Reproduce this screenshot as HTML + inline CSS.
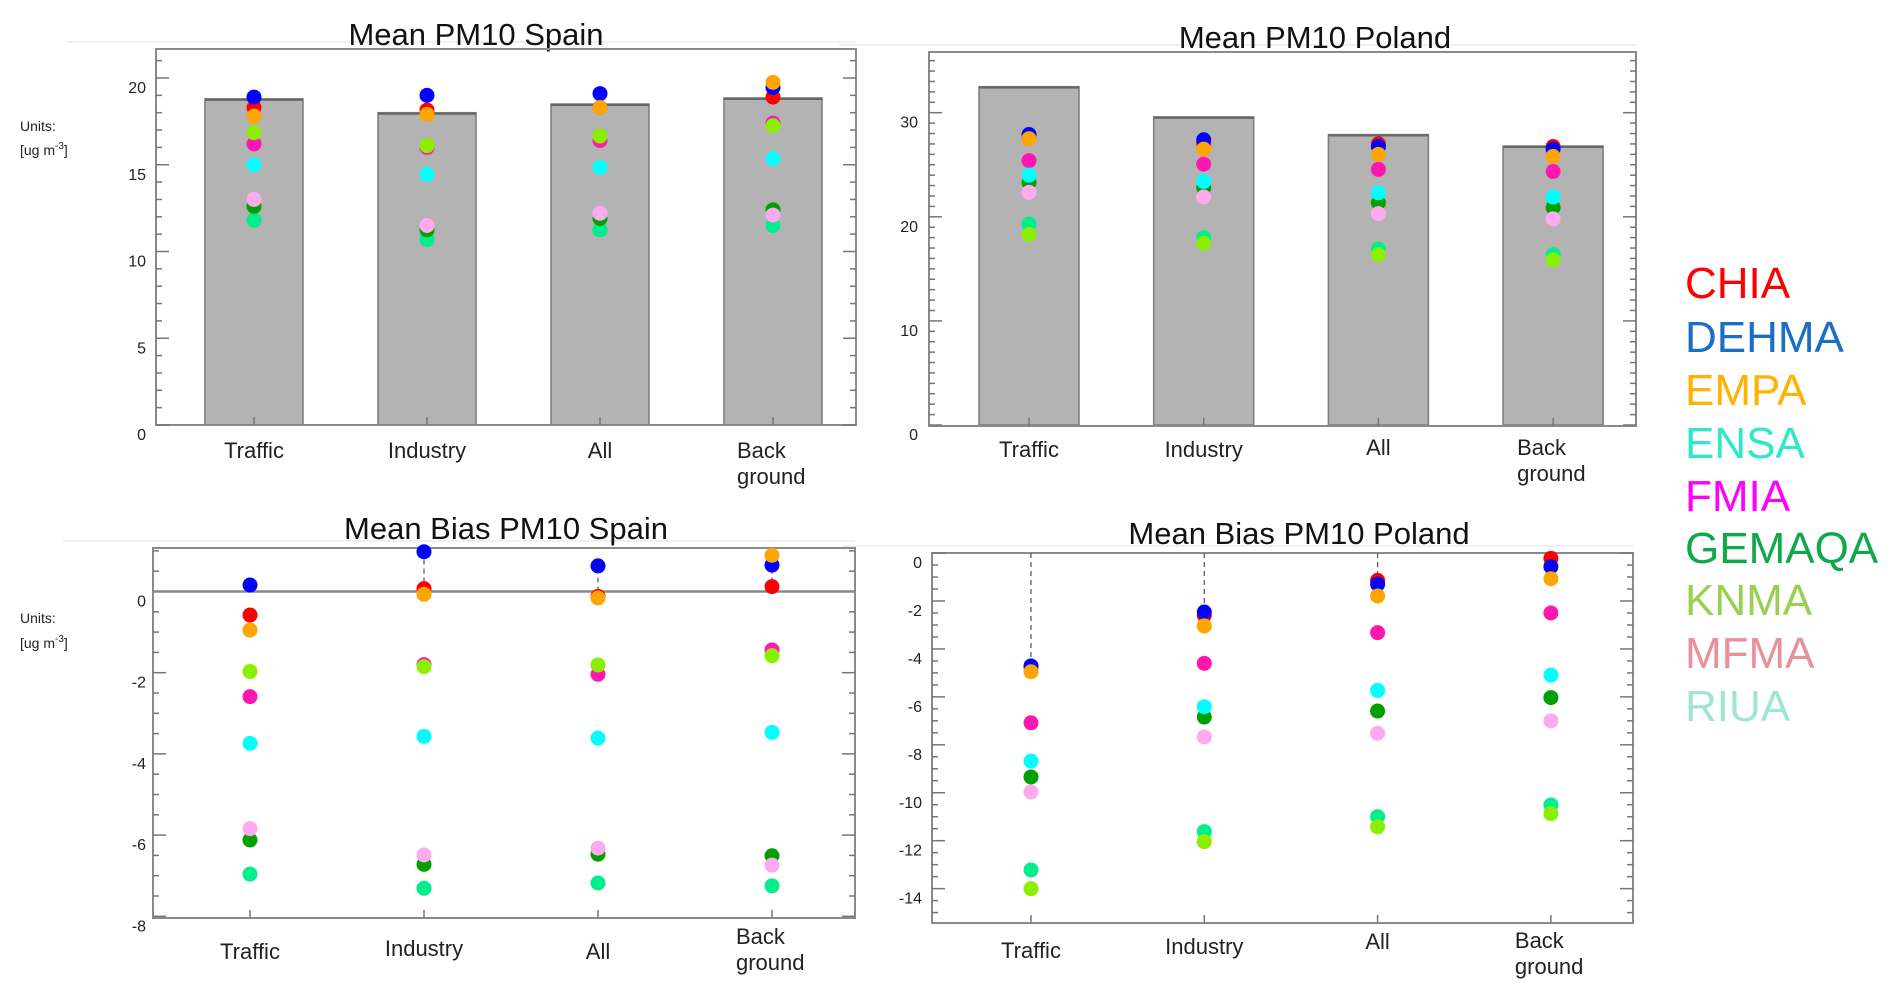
<!DOCTYPE html>
<html><head><meta charset="utf-8"><style>
html,body{margin:0;padding:0;background:#fff;}
svg{display:block;font-family:"Liberation Sans",Arial,sans-serif;}
</style></head><body>
<svg id="chart" width="1892" height="1002" viewBox="0 0 1892 1002" xmlns="http://www.w3.org/2000/svg"></svg>
<script>
const categories = ["Traffic","Industry","All","Back ground"];
const models = ["CHIA","DEHMA","EMPA","ENSA","FMIA","GEMAQA","KNMA","MFMA","RIUA"];
const dotColors = ["#ff0000","#0000ff","#ffa500","#00ee8c","#ff18b0","#00a000","#8cee00","#ffaaee","#00ffff"];
const legendColors = ["#ff0000","#1a6fc4","#ffb300","#2ee8c8","#ff00ff","#10a84a","#98d050","#e8909c","#a0e4d4"];

const spainMeanBars = [18.8, 18.0, 18.5, 18.85];
const polandMeanBars = [32.5, 29.6, 27.9, 26.8];

// rows = models (order above), columns = categories
const spainMeanValues = [
  [18.3, 18.15, 18.3, 18.9],
  [18.9, 19.0, 19.1, 19.45],
  [17.8, 17.9, 18.3, 19.75],
  [11.8, 10.7, 11.25, 11.5],
  [16.2, 16.0, 16.4, 17.4],
  [12.6, 11.25, 11.9, 12.4],
  [16.85, 16.1, 16.65, 17.25],
  [13.0, 11.5, 12.2, 12.1],
  [15.0, 14.45, 14.85, 15.35]
];
const polandMeanValues = [
  [27.7, 27.1, 27.0, 26.75],
  [27.9, 27.4, 26.75, 26.5],
  [27.5, 26.5, 26.0, 25.8],
  [19.3, 18.0, 16.9, 16.35],
  [25.4, 25.05, 24.55, 24.35],
  [23.3, 22.8, 21.35, 20.9],
  [18.3, 17.45, 16.35, 15.85],
  [22.35, 21.9, 20.3, 19.8],
  [24.0, 23.4, 22.3, 21.9]
];
const spainBiasValues = [
  [-0.58, 0.07, -0.12, 0.12],
  [0.16, 0.98, 0.63, 0.65],
  [-0.95, -0.07, -0.16, 0.89],
  [-6.96, -7.31, -7.18, -7.25],
  [-2.59, -1.80, -2.04, -1.44],
  [-6.12, -6.72, -6.47, -6.51],
  [-1.97, -1.85, -1.81, -1.58],
  [-5.84, -6.49, -6.32, -6.74],
  [-3.74, -3.57, -3.61, -3.47]
];
const polandBiasValues = [
  [-4.75, -2.6, -1.14, -0.22],
  [-4.71, -2.46, -1.30, -0.57],
  [-4.95, -3.04, -1.79, -1.07],
  [-13.22, -11.62, -11.0, -10.51],
  [-7.08, -4.6, -3.32, -2.5],
  [-9.34, -6.84, -6.59, -6.03],
  [-14.0, -12.04, -11.42, -10.87],
  [-9.97, -7.67, -7.52, -7.0],
  [-8.68, -6.41, -5.73, -5.09]
];
const spainMeanTicks = [0,5,10,15,20];
const polandMeanTicks = [0,10,20,30];
const spainBiasTicks = [0,-2,-4,-6,-8];
const polandBiasTicks = [0,-2,-4,-6,-8,-10,-12,-14];

const NS = "http://www.w3.org/2000/svg";
const svg = document.getElementById("chart");
function mk(tag, attrs, parent){
  const e = document.createElementNS(NS, tag);
  for (const k in attrs) e.setAttribute(k, attrs[k]);
  (parent||svg).appendChild(e);
  return e;
}

const panels = [
  {id:"spain-mean", title:"Mean PM10 Spain", tx:476, ty:45, fx0:156, fx1:856, fy0:49, fy1:425,
   y0:425, k:17.35, cx0:254, step:173, bars:spainMeanBars, barW:98, vals:spainMeanValues,
   ticks:spainMeanTicks, tmin:0, tmax:21, minor:1, major:5, lx:146, units:[131,155],
   catY:[458,458,458,458], zero:false, dash:"none"},
  {id:"poland-mean", title:"Mean PM10 Poland", tx:1315, ty:48, fx0:929, fx1:1636, fy0:52, fy1:426,
   y0:425, k:10.41, cx0:1029, step:174.7, bars:polandMeanBars, barW:100, vals:polandMeanValues,
   ticks:polandMeanTicks, tmin:0, tmax:35, minor:1, major:10, lx:918, units:null,
   catY:[457,457,455,455], zero:false, dash:"none"},
  {id:"spain-bias", title:"Mean Bias PM10 Spain", tx:506, ty:539, fx0:153, fx1:855, fy0:548, fy1:918,
   y0:591.5, k:40.6, cx0:250, step:174, bars:null, vals:spainBiasValues,
   ticks:spainBiasTicks, tmin:-8, tmax:1, minor:0.5, major:2, lx:146, units:[623,648],
   catY:[959,956,959,944], zero:true, dash:"up"},
  {id:"poland-bias", title:"Mean Bias PM10 Poland", tx:1299, ty:544, fx0:932, fx1:1633, fy0:553, fy1:923,
   y0:553.06, k:23.97, cx0:1031, step:173.3, bars:null, vals:polandBiasValues,
   ticks:polandBiasTicks, tmin:-15, tmax:0, minor:0.5, major:2, lx:922, units:null,
   catY:[958,954,949,948], zero:false, dash:"top"}
];

panels.forEach(p => {
  const g = mk("g", {});
  
  
  const yS = v => p.y0 - v * p.k;
  const xS = i => p.cx0 + i * p.step;

  // faint guide lines
  mk("line",{x1:p.fx0-90,y1:p.fy0-7,x2:p.fx1,y2:p.fy0-7,stroke:"#f0f0f0","stroke-width":2},g);

  const t = mk("text",{x:p.tx,y:p.ty,"text-anchor":"middle","font-size":31,fill:"#111"},g);
  t.textContent = p.title;
  
  

  if (p.bars) {
    p.bars.forEach((v,i) => {
      const r = mk("rect",{x:xS(i)-p.barW/2,y:yS(v),width:p.barW,height:yS(0)-yS(v),fill:"#b3b3b3",stroke:"#7a7a7a","stroke-width":1.5},g);
      
      
      mk("line",{x1:xS(i)-p.barW/2,y1:yS(v)+1,x2:xS(i)+p.barW/2,y2:yS(v)+1,stroke:"#666","stroke-width":2},g);
    });
  }

  // frame
  const f = mk("rect",{x:p.fx0,y:p.fy0,width:p.fx1-p.fx0,height:p.fy1-p.fy0,fill:"none",stroke:"#8a8a8a","stroke-width":2},g);
  
  

  // ticks
  for (let v = p.tmin; v <= p.tmax + 1e-6; v += p.minor) {
    const y = yS(v);
    if (y < p.fy0 - 0.5 || y > p.fy1 + 0.5) continue;
    const isMaj = Math.abs(v / p.major - Math.round(v / p.major)) < 1e-6;
    const L = isMaj ? 13 : 6;
    mk("line",{x1:p.fx0,y1:y,x2:p.fx0+L,y2:y,stroke:"#777","stroke-width":1.5},g);
    mk("line",{x1:p.fx1,y1:y,x2:p.fx1-L,y2:y,stroke:"#777","stroke-width":1.5},g);
  }
  p.ticks.forEach(v => {
    const lab = mk("text",{x:p.lx,y:yS(v)+15,"text-anchor":"end","font-size":16,fill:"#222"},g);
    lab.textContent = v;
    
    
  });

  if (p.zero) {
    const z = mk("line",{x1:p.fx0,y1:yS(0),x2:p.fx1,y2:yS(0),stroke:"#888","stroke-width":2.5},g);
    
    
  }

  // category ticks and labels
  categories.forEach((c,i) => {
    mk("line",{x1:xS(i),y1:p.fy1,x2:xS(i),y2:p.fy1-8,stroke:"#777","stroke-width":1.5},g);
    const lab = mk("text",{"font-size":22,fill:"#222"},g);
    
    
    if (c === "Back ground") {
      lab.setAttribute("x", xS(i) - 36);
      lab.setAttribute("y", p.catY[i]);
      const a = mk("tspan",{x:xS(i)-36},lab); a.textContent = "Back";
      const b = mk("tspan",{x:xS(i)-36,dy:26},lab); b.textContent = "ground";
    } else {
      lab.setAttribute("x", xS(i));
      lab.setAttribute("y", p.catY[i]);
      lab.setAttribute("text-anchor","middle");
      lab.textContent = c;
    }
  });

  // dashed connector lines
  categories.forEach((c,i) => {
    const col = p.vals.map(r => r[i]);
    if (p.dash === "top") {
      const top = Math.max(...col);
      if (yS(top) > p.fy0 + 10)
        mk("line",{x1:xS(i),y1:p.fy0,x2:xS(i),y2:yS(top),stroke:"#555","stroke-width":1.2,"stroke-dasharray":"5,4"},g);
    } else if (p.dash === "up") {
      const top = Math.max(...col);
      if (top > 0.3)
        mk("line",{x1:xS(i),y1:yS(0),x2:xS(i),y2:yS(top),stroke:"#555","stroke-width":1.2,"stroke-dasharray":"5,4"},g);
    }
  });

  // dots
  p.vals.forEach((row, m) => {
    row.forEach((v, i) => {
      const d = mk("ellipse",{cx:xS(i),cy:yS(v),rx:7.5,ry:7.5,fill:dotColors[m]},g);
      
      
    });
  });

  if (p.units) {
    const u1 = mk("text",{x:20,y:p.units[0],"font-size":14,fill:"#222"},g);
    u1.textContent = "Units:";
    
    
    const u2 = mk("text",{x:20,y:p.units[1],"font-size":14,fill:"#222"},g);
    
    
    const s1 = mk("tspan",{},u2); s1.textContent = "[ug m";
    const s2 = mk("tspan",{dy:-6,"font-size":10},u2); s2.textContent = "-3";
    const s3 = mk("tspan",{dy:6},u2); s3.textContent = "]";
  }
});

// legend
const legendBaselines = [298,352,405,458,511,563,615,668,721];
models.forEach((m,i) => {
  const t = mk("text",{x:1685,y:legendBaselines[i],"font-size":44,fill:legendColors[i]});
  t.textContent = m;
  
  
});
</script>
</body></html>
